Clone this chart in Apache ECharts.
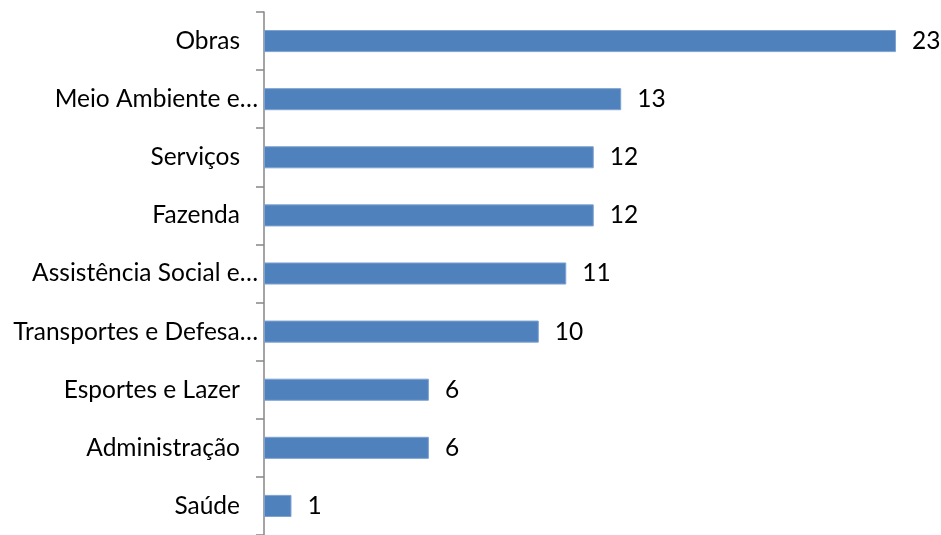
<!DOCTYPE html>
<html>
<head>
<meta charset="utf-8">
<script src="https://cdn.jsdelivr.net/npm/echarts@6/dist/echarts.min.js"></script>
<style>html,body{margin:0;padding:0;background:#fff}#c{width:941px;height:535px}</style>
</head>
<body>
<div id="c"></div>
<script>
const categories = ['Obras','Meio Ambiente e…','Serviços','Fazenda','Assistência Social e…','Transportes e Defesa…','Esportes e Lazer','Administração','Saúde'];
const values = [23,13,12,12,11,10,6,6,1];

const chart = echarts.init(document.getElementById('c'));
const FONT = 'Lato';
const FS = 24.5;
chart.setOption({
  animation: false,
  grid: {left: 264, top: 12, width: 659.5, height: 527.5},
  xAxis: {type: 'value', min: 0, max: 24, show: false},
  yAxis: {
    type: 'category',
    inverse: true,
    data: categories,
    axisLine: {show: true, lineStyle: {color: '#868686', width: 1.5}},
    axisTick: {show: true, interval: 0, length: 8, lineStyle: {color: '#868686', width: 1.5}},
    axisLabel: {
      margin: 6, interval: 0,
      fontFamily: FONT, fontSize: FS, color: '#000',
      formatter: function (v) { return v.endsWith('…') ? v : '{p|' + v + '}'; },
      rich: {p: {padding: [0, 18, 0, 0], fontFamily: FONT, fontSize: FS, color: '#000'}}
    }
  },
  series: [{
    type: 'bar',
    data: values,
    barCategoryGap: '62%',
    itemStyle: {color: '#4F81BD', borderColor: '#7fa3d1', borderWidth: 1},
    label: {show: true, position: 'right', distance: 16, fontFamily: FONT, fontSize: FS, color: '#000'}
  }]
});
</script>
</body>
</html>
